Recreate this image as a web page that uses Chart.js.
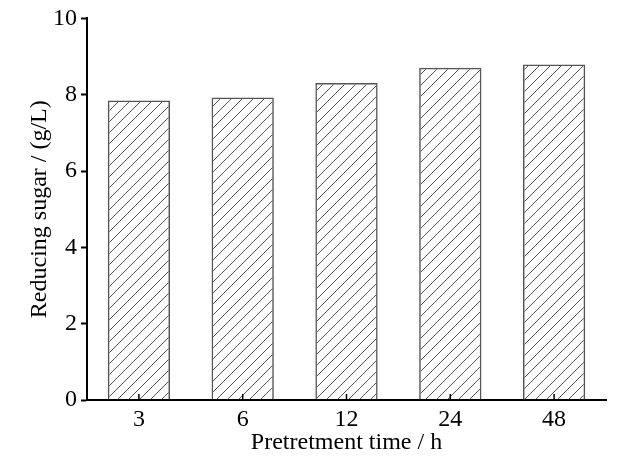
<!DOCTYPE html>
<html>
<head>
<meta charset="utf-8">
<script src="https://cdn.jsdelivr.net/npm/chart.js@4/dist/chart.umd.min.js"></script>
<style>
  body { margin: 0; background: #fff; }
  #wrap { width: 630px; height: 458px; }
</style>
</head>
<body>
<div id="wrap"><canvas id="graph"></canvas></div>
<script>
const times = ['3', '6', '12', '24', '48'];
const sugar = [7.85, 7.93, 8.31, 8.71, 8.79];
const yTicks = [0, 2, 4, 6, 8, 10];

// diagonal hatch fill
function makeHatch() {
    const c = document.createElement('canvas');
    c.width = 11;
    c.height = 11;
    const g = c.getContext('2d');
    g.strokeStyle = '#555';
    g.lineWidth = 1;
    g.beginPath();
    g.moveTo(-1, 12); g.lineTo(12, -1);
    g.moveTo(-1, 1); g.lineTo(1, -1);
    g.moveTo(10, 12); g.lineTo(12, 10);
    g.stroke();
    return g.createPattern(c, 'repeat');
}

// small ticks on the x axis pointing into the plot
const innerTicks = {
    id: 'innerTicks',
    afterDraw(chart) {
        const x = chart.scales.x;
        const c = chart.ctx;
        c.save();
        c.strokeStyle = '#000';
        c.lineWidth = 1.5;
        c.beginPath();
        x.ticks.forEach((t, i) => {
            const px = x.getPixelForTick(i);
            c.moveTo(px, x.top);
            c.lineTo(px, x.top - 6);
        });
        c.stroke();
        c.restore();
    }
};

const font = { family: '"Liberation Serif", "Times New Roman", serif', size: 24 };

const ctx = document.getElementById('graph').getContext('2d');
const myChart = new Chart(ctx, {
    type: 'bar',
    data: {
        labels: times,
        datasets: [{
            data: sugar,
            backgroundColor: makeHatch(),
            borderColor: '#555',
            borderWidth: 1.5,
            barPercentage: 0.6,
            categoryPercentage: 1.0
        }]
    },
    options: {
        responsive: true,
        maintainAspectRatio: false,
        animation: false,
        layout: { padding: { left: 0, right: 24, top: 18, bottom: 0 } },
        plugins: {
            legend: { display: false },
            tooltip: { enabled: false }
        },
        scales: {
            x: {
                afterFit: (s) => { s.height = 58; },
                grid: { display: false, drawTicks: false },
                border: { color: '#000', width: 2 },
                ticks: { color: '#000', font: font, padding: 5 },
                title: {
                    display: true,
                    text: 'Pretretment time / h',
                    color: '#000',
                    font: font,
                    padding: { top: 0, bottom: 1 }
                }
            },
            y: {
                min: 0,
                max: 10,
                afterFit: (s) => { s.width = 87; },
                afterBuildTicks: (s) => { s.ticks = yTicks.map(v => ({ value: v })); },
                grid: {
                    drawOnChartArea: false,
                    drawTicks: true,
                    tickLength: 6,
                    tickColor: '#000',
                    tickWidth: 2
                },
                border: { color: '#000', width: 2 },
                ticks: { color: '#000', font: font, padding: 4 },
                title: {
                    display: true,
                    text: 'Reducing sugar / (g/L)',
                    color: '#000',
                    font: font,
                    padding: { top: 25, bottom: 0 }
                }
            }
        }
    },
    plugins: [innerTicks]
});
</script>
</body>
</html>
